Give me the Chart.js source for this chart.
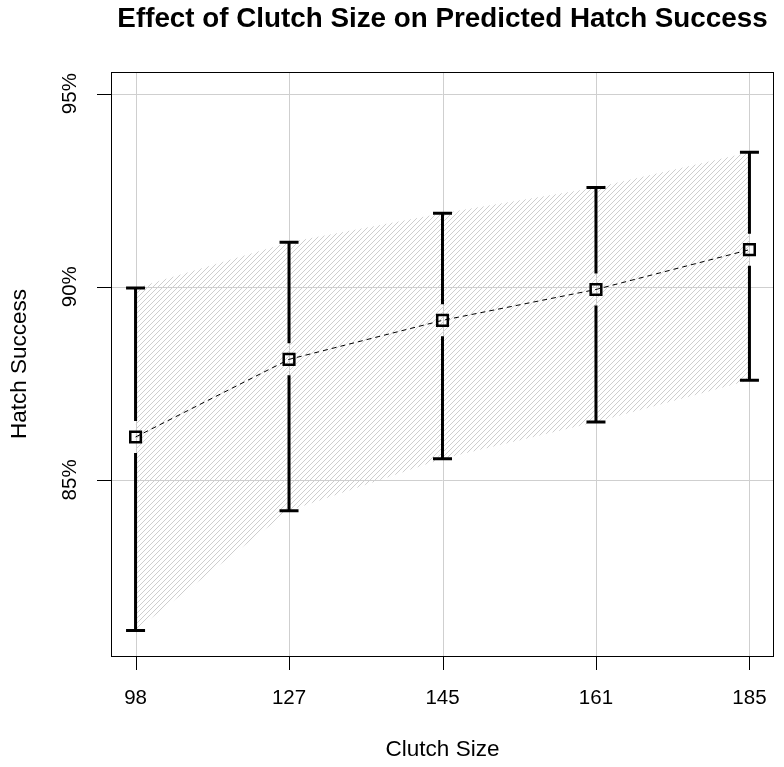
<!DOCTYPE html>
<html>
<head>
<meta charset="utf-8">
<title>Effect of Clutch Size on Predicted Hatch Success</title>
<script src="https://cdn.jsdelivr.net/npm/chart.js@4.4.1/dist/chart.umd.min.js"></script>
<style>
  html, body { margin: 0; padding: 0; background: #fff; }
  canvas { display: block; }
</style>
</head>
<body>
<canvas id="hatchChart" width="784" height="767"></canvas>
<script>
// ── Datos ──
const clutchSizes = ['98', '127', '145', '161', '185'];
const hatchPred   = [86.11, 88.12, 89.13, 89.93, 90.96];
const hatchUpper  = [89.97, 91.15, 91.90, 92.57, 93.48];
const hatchLower  = [81.10, 84.20, 85.55, 86.50, 87.58];
const yTicks      = [85, 90, 95];

const FONT = '"Liberation Sans", Arial, Helvetica, sans-serif';

// ── Relleno rayado (como density/angle de R) ──
function hatchPattern() {
  const s = 5;
  const c = document.createElement('canvas');
  c.width = s; c.height = s;
  const g = c.getContext('2d');
  g.strokeStyle = '#cecece';
  g.lineWidth = 1;
  g.beginPath();
  g.moveTo(0, s); g.lineTo(s, 0);
  g.moveTo(-1, 1); g.lineTo(1, -1);
  g.moveTo(s - 1, s + 1); g.lineTo(s + 1, s - 1);
  g.stroke();
  return g.createPattern(c, 'repeat');
}

const pts = arr => arr.map((v, i) => ({ x: i, y: v }));

// ── Plugin: rejilla, ejes, textos y barras de error ──
const baseR = {
  id: 'baseR',
  beforeDatasetsDraw(chart) {
    const { ctx, chartArea: a, scales: { x, y } } = chart;
    ctx.save();
    ctx.strokeStyle = '#cfcfcf';
    ctx.lineWidth = 1;
    ctx.beginPath();
    clutchSizes.forEach((_, i) => {
      const px = Math.round(x.getPixelForValue(i)) + 0.5;
      ctx.moveTo(px, a.top); ctx.lineTo(px, a.bottom);
    });
    yTicks.forEach(t => {
      const py = Math.round(y.getPixelForValue(t)) + 0.5;
      ctx.moveTo(a.left, py); ctx.lineTo(a.right, py);
    });
    ctx.stroke();
    ctx.restore();
  },
  afterDatasetsDraw(chart) {
    const { ctx, chartArea: a, scales: { x, y } } = chart;
    ctx.save();

    // barras de error con hueco alrededor del punto
    const gap = 16, cap = 9.5;
    ctx.strokeStyle = '#000';
    ctx.lineWidth = 3;
    ctx.lineCap = 'butt';
    clutchSizes.forEach((_, i) => {
      const px = x.getPixelForValue(i);
      const pm = y.getPixelForValue(hatchPred[i]);
      const pu = y.getPixelForValue(hatchUpper[i]);
      const pl = y.getPixelForValue(hatchLower[i]);
      ctx.beginPath();
      ctx.moveTo(px, pu); ctx.lineTo(px, pm - gap);
      ctx.moveTo(px, pm + gap); ctx.lineTo(px, pl);
      ctx.moveTo(px - cap, pu); ctx.lineTo(px + cap, pu);
      ctx.moveTo(px - cap, pl); ctx.lineTo(px + cap, pl);
      ctx.stroke();
    });

    // caja
    ctx.lineWidth = 1;
    ctx.strokeRect(Math.round(a.left) + 0.5, Math.round(a.top) + 0.5,
      Math.round(a.right - a.left) - 1, Math.round(a.bottom - a.top));

    // marcas de los ejes
    const tick = 14;
    ctx.beginPath();
    clutchSizes.forEach((_, i) => {
      const px = Math.round(x.getPixelForValue(i)) + 0.5;
      ctx.moveTo(px, a.bottom); ctx.lineTo(px, a.bottom + tick);
    });
    yTicks.forEach(t => {
      const py = Math.round(y.getPixelForValue(t)) + 0.5;
      ctx.moveTo(a.left, py); ctx.lineTo(a.left - tick, py);
    });
    ctx.stroke();

    // etiquetas
    ctx.fillStyle = '#000';
    ctx.textAlign = 'center';
    ctx.textBaseline = 'middle';
    ctx.font = '20.5px ' + FONT;
    clutchSizes.forEach((lab, i) => {
      ctx.fillText(lab, x.getPixelForValue(i), a.bottom + 42);
    });
    yTicks.forEach(t => {
      ctx.save();
      ctx.translate(a.left - 41, y.getPixelForValue(t));
      ctx.rotate(-Math.PI / 2);
      ctx.fillText(t + '%', 0, 0);
      ctx.restore();
    });

    const cx = (a.left + a.right) / 2, cy = (a.top + a.bottom) / 2;
    ctx.font = '22.5px ' + FONT;
    ctx.fillText('Clutch Size', cx, a.bottom + 94);
    ctx.save();
    ctx.translate(20, cy);
    ctx.rotate(-Math.PI / 2);
    ctx.fillText('Hatch Success', 0, 0);
    ctx.restore();

    ctx.font = 'bold 27.8px ' + FONT;
    ctx.fillText('Effect of Clutch Size on Predicted Hatch Success', cx, 19);
    ctx.restore();
  }
};

new Chart(document.getElementById('hatchChart'), {
  type: 'line',
  data: {
    datasets: [
      {
        label: 'Upper',
        data: pts(hatchUpper),
        borderWidth: 0,
        pointRadius: 0,
        fill: '+1',
        backgroundColor: hatchPattern(),
        order: 3
      },
      {
        label: 'Lower',
        data: pts(hatchLower),
        borderWidth: 0,
        pointRadius: 0,
        fill: false,
        order: 3
      },
      {
        label: 'Predicted',
        data: pts(hatchPred),
        borderColor: '#000',
        borderWidth: 1,
        borderDash: [5, 4],
        pointStyle: 'rect',
        pointRadius: 7.5,
        pointBorderWidth: 2.5,
        pointBorderColor: '#000',
        pointBackgroundColor: 'rgba(0,0,0,0)',
        fill: false,
        order: 1
      }
    ]
  },
  options: {
    responsive: false,
    animation: false,
    events: [],
    layout: { padding: { left: 111, right: 5, top: 72, bottom: 111 } },
    plugins: { legend: { display: false }, title: { display: false }, tooltip: { enabled: false } },
    scales: {
      x: { type: 'linear', min: -0.16, max: 4.16, display: false },
      y: { type: 'linear', min: 80.44, max: 95.56, display: false }
    }
  },
  plugins: [baseR]
});
</script>
</body>
</html>
